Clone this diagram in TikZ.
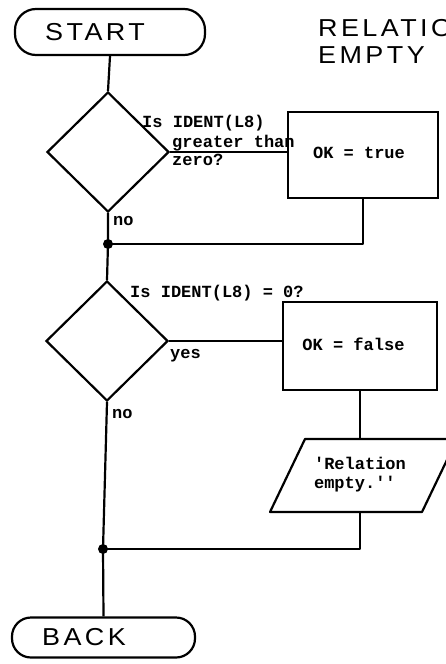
\documentclass[tikz,border=0pt]{standalone}
\usepackage{fontspec}
\setmonofont{Liberation Mono}
\newfontfamily\lettering[FakeStretch=1.1,LetterSpace=14]{Liberation Sans}
\usetikzlibrary{shapes.geometric}
\begin{document}
\begin{tikzpicture}[x=1pt,y=-1pt,
  line/.style={line width=2.2pt, line join=round},
  mono/.style={font=\fontsize{17}{19}\selectfont\ttfamily\bfseries},
  lbl/.style={mono, inner sep=0pt, anchor=base west},
  term/.style={draw, line width=2.2pt, rounded corners=21pt, inner sep=0pt,
    font=\lettering\fontsize{24.5}{28}\selectfont},
  dec/.style={draw, diamond, line width=2.2pt, minimum width=122pt, minimum height=120pt, inner sep=0pt},
  proc/.style={draw, rectangle, line width=2.2pt, inner sep=0pt, mono},
  jdot/.style={circle, fill, inner sep=0pt, minimum size=10pt},
  sans/.style={font=\lettering\fontsize{24.5}{28}\selectfont, inner sep=0pt, anchor=base west}]
\useasboundingbox (0,0) rectangle (446,664);
\clip (0,0) rectangle (446,664);

% terminals
\node[term, minimum width=190pt, minimum height=46pt] (start) at (110,32) {START\hspace*{30pt}};
\node[term, minimum width=183pt, minimum height=40pt, rounded corners=19pt] (back) at (103.5,637.5) {BACK\hspace*{39pt}};

% title text
\node[sans] (rel) at (318,36) {RELATION};
\node[sans] (emp) at (318,63) {EMPTY};

% decisions
\node[dec] (d1) at (108,152) {};
\node[dec] (d2) at (107,341) {};

% processes
\node[proc, minimum width=150pt, minimum height=86pt] (b1) at (363,155) {\raisebox{5pt}{OK = true}\hspace*{8pt}};
\node[proc, minimum width=154pt, minimum height=88pt] (b2) at (360,346) {\raisebox{4pt}{OK = false}\hspace*{13pt}};

% output parallelogram
\coordinate (ptop) at (360,439);
\coordinate (pbot) at (360,512);
\draw[line] (305,439) -- (457,439) -- (422,512) -- (270,512) -- cycle;
\node[mono, inner sep=0pt, align=left] (ptxt) at (360,475) {'Relation\\empty.''};

% junctions
\node[jdot] (j1) at (108,244) {};
\node[jdot] (j2) at (103,549) {};

% labels
\node[lbl] (q1a) at (142,127) {Is IDENT(L8)};
\node[lbl] (q1b) at (172,147) {greater than};
\node[lbl] (q1c) at (172,165) {zero?};
\node[lbl] (no1) at (113,225) {no};
\node[lbl] (q2) at (130,297) {Is IDENT(L8) = 0?};
\node[lbl] (yes2) at (170,358) {yes};
\node[lbl] (no2) at (112,418) {no};

% connectors
\draw[line] (start.south) -- (d1.north);
\draw[line] (d1.south) -- (j1.center) -- (d2.north);
\draw[line] (d1.east) -- (d1.east -| b1.west);
\draw[line] (b1.south) |- (j1.center);
\draw[line] (d2.east) -- (d2.east -| b2.west);
\draw[line] (b2.south) -- (ptop);
\draw[line] (d2.south) -- (j2.center) -- (back.north);
\draw[line] (pbot) |- (j2.center);
\end{tikzpicture}
\end{document}
